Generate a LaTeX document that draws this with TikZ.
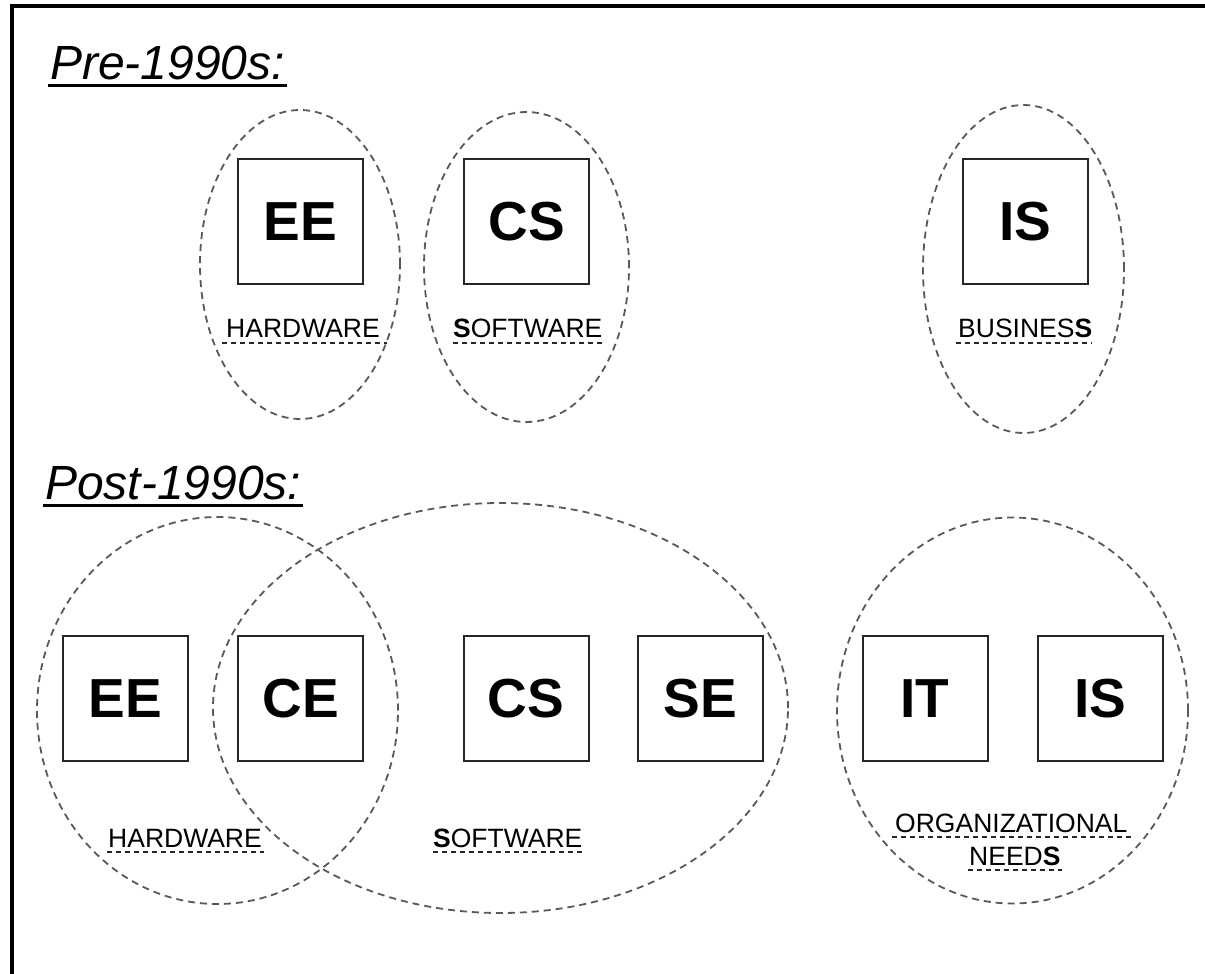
\documentclass[tikz,border=0pt]{standalone}
\usepackage{fontspec}
\setmainfont{Liberation Sans}
\usetikzlibrary{shapes.geometric}
\begin{document}
\begin{tikzpicture}[x=1pt,y=-1pt,
  box/.style={draw=black!85, line width=2pt, minimum size=125pt, inner sep=0pt,
    font=\fontsize{55}{55}\selectfont\bfseries},
  group/.style={draw=black!65, line width=1.8pt, dash pattern=on 7pt off 5pt,
    ellipse, inner sep=0pt},
  lab/.style={anchor=base west, inner sep=0pt, font=\fontsize{26.5}{30}\selectfont},
  ttl/.style={anchor=base west, inner sep=0pt, font=\fontsize{48}{50}\selectfont\itshape},
  ul/.style={draw=black!85, line width=1.8pt, dash pattern=on 5pt off 4pt},
  tul/.style={draw=black, line width=3pt}]
\useasboundingbox (0,0) rectangle (1205,974);
\fill[white] (0,0) rectangle (1205,974);
% frame
\draw[line width=3.5pt] (12,1000) -- (12,6) -- (1230,6);
% titles
\node[ttl] (pre) at (50,80) {Pre-1990s:};
\draw[tul] ([xshift=-2pt,yshift=-5.5pt]pre.base west) -- ([xshift=2pt,yshift=-5.5pt]pre.base east);
\node[ttl] (post) at (45,499) {Post-1990s:};
\draw[tul] ([xshift=-2pt,yshift=-6.5pt]post.base west) -- ([xshift=1pt,yshift=-6.5pt]post.base east);
% pre-1990s groups
\node[group, minimum width=200pt, minimum height=309pt] (gpreHW) at (300,264.5) {};
\node[group, minimum width=205pt, minimum height=310pt] (gpreSW) at (526.5,267) {};
\node[group, minimum width=201pt, minimum height=328pt] (gpreBU) at (1023.5,269) {};
\node[box] (preEE) at (300.5,221.5) {EE};
\node[box] (preCS) at (526.5,221.5) {CS};
\node[box] (preIS) at (1025.5,221.5) {IS};
\node[lab] (lpreHW) at (226,337) {HARDWARE};
\draw[ul] ([xshift=-4pt,yshift=-6pt]lpreHW.base west) -- ([xshift=7pt,yshift=-6pt]lpreHW.base east);
\node[lab] (lpreSW) at (453,337) {\textbf{S}OFTWARE};
\draw[ul] ([yshift=-6pt]lpreSW.base west) -- ([yshift=-6pt]lpreSW.base east);
\node[lab] (lpreBU) at (958,337) {BUSINES\textbf{S}};
\draw[ul] ([xshift=-2pt,yshift=-6pt]lpreBU.base west) -- ([yshift=-6pt]lpreBU.base east);
% post-1990s groups
\node[group, minimum width=361pt, minimum height=387pt] (gpostHW) at (217.5,710.5) {};
\node[group, minimum width=575pt, minimum height=410pt] (gpostSW) at (500.5,708) {};
\node[group, minimum width=351pt, minimum height=386pt] (gpostON) at (1012.5,710.5) {};
\node[box] (postEE) at (125.5,698.5) {EE};
\node[box] (postCE) at (300.5,698.5) {CE};
\node[box] (postCS) at (526,698.5) {CS};
\node[box] (postSE) at (700.5,698.5) {SE};
\node[box] (postIT) at (925,698.5) {IT};
\node[box] (postIS) at (1100.5,698.5) {IS};
\node[lab] (lpostHW) at (108,847) {HARDWARE};
\draw[ul] ([xshift=-1pt,yshift=-5pt]lpostHW.base west) -- ([xshift=2pt,yshift=-5pt]lpostHW.base east);
\node[lab] (lpostSW) at (433,847) {\textbf{S}OFTWARE};
\draw[ul] ([yshift=-5pt]lpostSW.base west) -- ([yshift=-5pt]lpostSW.base east);
\node[lab] (lpostON) at (895,832) {ORGANIZATIONAL};
\draw[ul] ([xshift=-3pt,yshift=-5pt]lpostON.base west) -- ([xshift=3pt,yshift=-5pt]lpostON.base east);
\node[lab] (lpostND) at (969,865) {NEED\textbf{S}};
\draw[ul] ([xshift=-1pt,yshift=-5pt]lpostND.base west) -- ([xshift=1pt,yshift=-5pt]lpostND.base east);
\end{tikzpicture}
\end{document}
